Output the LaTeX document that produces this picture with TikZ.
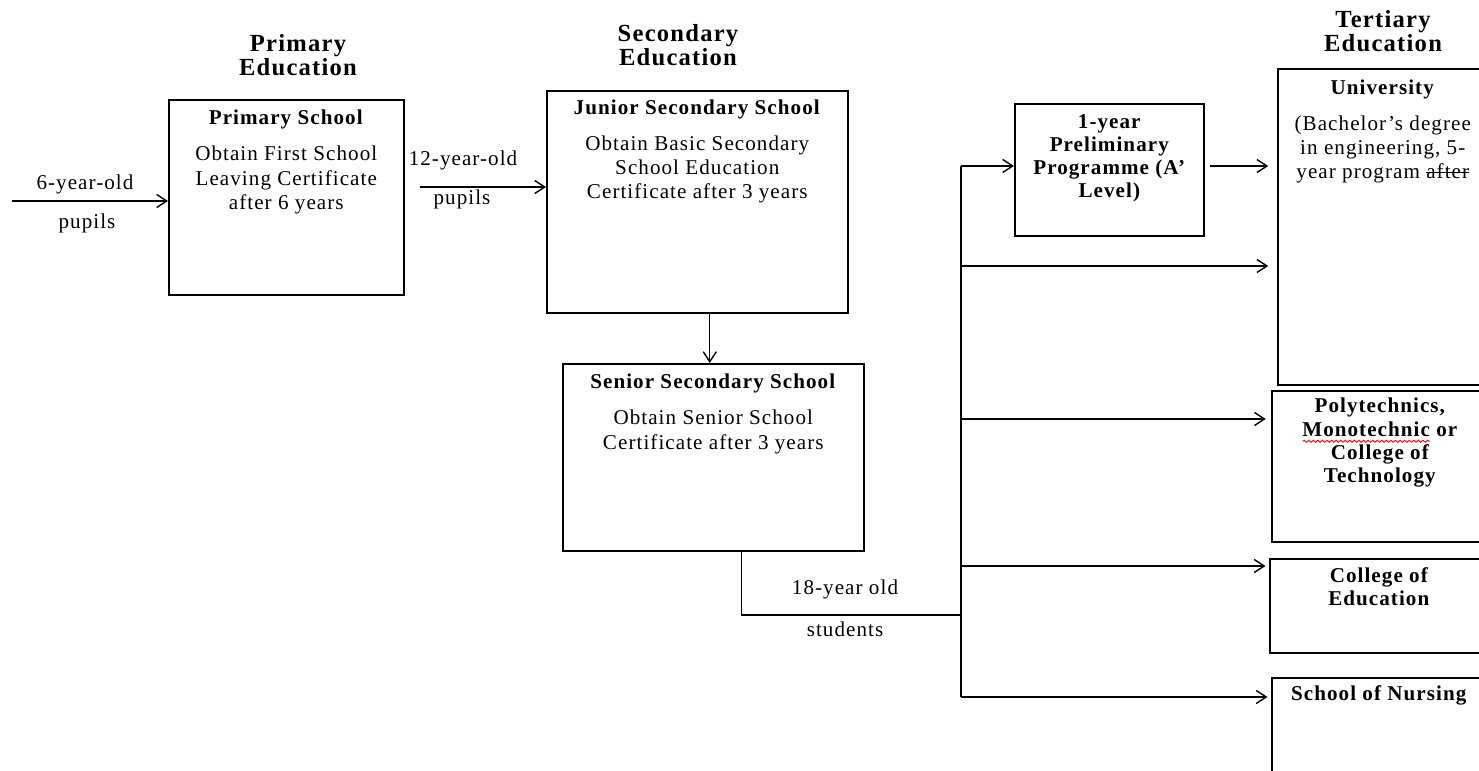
\documentclass[tikz,border=0pt]{standalone}
\usepackage{fontspec}
\setmainfont{Liberation Serif}[LetterSpace=5]
\usetikzlibrary{arrows.meta,positioning,decorations.pathmorphing}
\newcommand{\strikeword}[1]{\setbox0\hbox{#1}\rlap{\rule[0.26em]{\wd0}{0.6pt}}\box0\relax}
\newcommand{\redwave}[1]{\setbox0\hbox{#1}\rlap{\tikz[baseline=0pt]{\draw[red, line width=0.5pt,
    decorate, decoration={snake, amplitude=0.6pt, segment length=2.6pt}] (0pt,-3pt) -- (\wd0,-3pt);}}\box0\relax}

\begin{document}
\begin{tikzpicture}[x=0.02cm, y=-0.02cm,
    box/.style={draw, line width=0.9pt, anchor=north west, inner sep=0pt},
    boxtext/.style={align=center, inner sep=0pt, font=\fontsize{12}{13.7}\selectfont},
    boldtext/.style={align=center, inner sep=0pt, font=\bfseries\fontsize{12}{13.1}\selectfont},
    head/.style={align=center, inner sep=0pt, font=\bfseries\fontsize{14}{13.4}\selectfont},
    lbl/.style={inner sep=0pt, font=\fontsize{12}{13.7}\selectfont},
    link/.style={line width=0.8pt},
    arr/.style={line width=0.8pt, -{Straight Barb[length=2mm, width=2.6mm]}}]
  \useasboundingbox (0,0) rectangle (1479,770);
  \clip (0,0) rectangle (1479,770);

  % headings
  \node[head] (primhead) at (298,55) {Primary\\Education};
  \node[head] (sechead) at (678,45) {Secondary\\Education};
  \node[head] (terthead) at (1383,31) {Tertiary\\Education};

  % boxes
  \node[box, minimum width=4.70cm, minimum height=3.90cm] (prim) at (168,99) {};
  \node[box, minimum width=6.02cm, minimum height=4.44cm] (junior) at (546,90) {};
  \node[box, minimum width=6.02cm, minimum height=3.74cm] (senior) at (562,363) {};
  \node[box, minimum width=3.78cm, minimum height=2.64cm] (prelim) at (1014,103) {};
  \node[box, minimum width=4.20cm, minimum height=6.32cm] (univ) at (1277,68) {};
  \node[box, minimum width=4.40cm, minimum height=3.02cm] (poly) at (1271,390) {};
  \node[box, minimum width=4.36cm, minimum height=1.88cm] (coe) at (1269,558) {};
  \node[box, minimum width=4.28cm, minimum height=2.40cm] (nurs) at (1271,677) {};

  \node[boxtext, below=0.22cm of prim.north] (primtxt)
    {\textbf{Primary School}\\[6.8pt] Obtain First School\\ Leaving Certificate\\ after 6 years};
  \node[boxtext, below=0.19cm of junior.north] (juniortxt)
    {\textbf{Junior Secondary School}\\[6.8pt] Obtain Basic Secondary\\ School Education\\ Certificate after 3 years};
  \node[boxtext, below=0.22cm of senior.north] (seniortxt)
    {\textbf{Senior Secondary School}\\[6.8pt] Obtain Senior School\\ Certificate after 3 years};
  \node[boldtext, below=0.23cm of prelim.north] (prelimtxt)
    {1-year\\ Preliminary\\ Programme (A’\\ Level)};
  \node[boxtext, below=0.23cm of univ.north] (univtxt)
    {\textbf{University}\\[6.8pt] (Bachelor’s degree\\ in engineering, 5-\\ year program \strikeword{after}};
  \node[boldtext, below=0.16cm of poly.north, xshift=-0.04cm] (polytxt)
    {Polytechnics,\\ \redwave{Monotechnic} or\\ College of\\ Technology};
  \node[boldtext, below=0.18cm of coe.north] (coetxt) {College of\\ Education};
  \node[boldtext, below=0.17cm of nurs.north] (nurstxt) {School of Nursing};

  % connectors
  \coordinate (src) at (12,201);
  \coordinate (p12) at (420,187);
  \coordinate (busmid) at (961,615);
  \coordinate (bustop) at (961,166);
  \coordinate (b1) at (961,266);
  \coordinate (b2) at (961,419);
  \coordinate (b3) at (961,566);
  \coordinate (busbot) at (961,697);

  \draw[arr] (src) -- (src -| prim.west);
  \draw[arr] (p12) -- (p12 -| junior.west);
  \draw[arr] ([xshift=0.25cm]junior.south) -- ([xshift=0.25cm]junior.south |- senior.north);
  \draw[link] ([xshift=0.57cm]senior.south) |- (busmid);
  \draw[link] (bustop) -- (busbot);
  \draw[arr] (bustop) -- (bustop -| prelim.west);
  \draw[arr, shorten <=3pt, shorten >=5pt] (prelim.east |- bustop) -- (bustop -| univ.west);
  \draw[arr, shorten >=5pt] (b1) -- (b1 -| univ.west);
  \draw[arr, shorten >=3pt] (b2) -- (b2 -| poly.west);
  \draw[arr, shorten >=2pt] (b3) -- (b3 -| coe.west);
  \draw[arr, shorten >=2pt] (busbot) -- (busbot -| nurs.west);

  % labels
  \node[lbl] (age6) at (85,184) {6-year-old};
  \node[lbl] (pup6) at (87,223) {pupils};
  \node[lbl] (age12) at (463,160) {12-year-old};
  \node[lbl] (pup12) at (462,199) {pupils};
  \node[lbl] (age18) at (845,589) {18-year old};
  \node[lbl] (stud18) at (845,629) {students};
\end{tikzpicture}
\end{document}
